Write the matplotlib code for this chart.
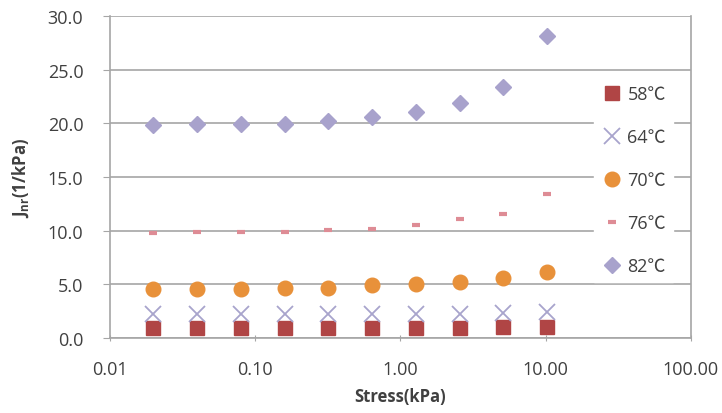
import matplotlib
matplotlib.use("Agg")
import matplotlib.pyplot as plt
from matplotlib.ticker import FixedLocator, FuncFormatter

stress = [0.02, 0.04, 0.08, 0.16, 0.32, 0.64, 1.28, 2.56, 5.12, 10.24]
j58 = [0.9, 0.9, 0.9, 0.9, 0.9, 0.9, 0.92, 0.95, 1.02, 1.0]
j64 = [2.2, 2.2, 2.2, 2.2, 2.2, 2.2, 2.22, 2.25, 2.3, 2.45]
j70 = [4.6, 4.6, 4.6, 4.7, 4.7, 4.9, 5.0, 5.2, 5.6, 6.15]
j76 = [9.75, 9.9, 9.9, 9.9, 10.1, 10.2, 10.5, 11.05, 11.6, 13.4]
j82 = [19.85, 19.95, 19.95, 19.95, 20.25, 20.55, 21.1, 21.9, 23.4, 28.1]
labels = ["58℃", "64℃", "70℃", "76℃", "82℃"]
yticks = [0, 5, 10, 15, 20, 25, 30]
xticks = [0.01, 0.1, 1, 10, 100]

plt.rcParams['font.family'] = ['Open Sans', 'Noto Sans CJK SC', 'DejaVu Sans']
plt.rcParams['mathtext.fontset'] = 'custom'
plt.rcParams['mathtext.rm'] = 'Open Sans:bold'
plt.rcParams['mathtext.bf'] = 'Open Sans:bold'

fig = plt.figure(figsize=(7.22, 4.14), dpi=100)
ax = fig.add_axes([0.152, 0.181, 0.805, 0.778])

ax.set_xscale('log')
ax.set_xlim(0.01, 100)
ax.set_ylim(0, 30)

styles = [
    dict(marker='s', color='#B04545', ms=10, ls='none'),
    dict(marker='x', color='#A8A4CC', ms=11, mew=1.3, ls='none'),
    dict(marker='o', color='#E8913A', ms=10.5, ls='none'),
    dict(marker='_', color='#DE8C95', ms=6, mew=3, ls='none'),
    dict(marker='D', color='#A8A2CC', ms=7.8, ls='none'),
]
series = [j58, j64, j70, j76, j82]
for s, lab, st in zip(series, labels, styles):
    ax.plot(stress, s, label=lab, zorder=3, **st)

ax.yaxis.set_major_locator(FixedLocator(yticks))
ax.yaxis.set_major_formatter(FuncFormatter(lambda v, p: f"{v:.1f}"))
ax.xaxis.set_major_locator(FixedLocator(xticks))
ax.xaxis.set_major_formatter(FuncFormatter(lambda v, p: f"{v:.2f}"))
ax.xaxis.set_minor_locator(FixedLocator([]))

ax.grid(axis='y', color='#A6A6A6', lw=1.2, zorder=0)
ax.spines['top'].set_visible(False)
for sp in ['left', 'bottom', 'right']:
    ax.spines[sp].set_color('#A6A6A6')
    ax.spines[sp].set_linewidth(1.2)

ax.tick_params(axis='both', colors='#A6A6A6', labelcolor='#404040', labelsize=13, length=5)
ax.tick_params(axis='x', direction='inout', pad=13)
ax.tick_params(axis='y', pad=14)

ax.set_xlabel('Stress(kPa)', fontsize=12, fontweight='bold', color='#404040', labelpad=7)
ax.set_ylabel(r'J$_{\mathrm{nr}}$(1/kPa)', fontsize=12, fontweight='bold', color='#404040', labelpad=12)

leg = ax.legend(loc='center right', bbox_to_anchor=(0.985, 0.49), frameon=True, fontsize=13,
                labelspacing=1.38, handletextpad=0.25, handlelength=1.2, borderpad=0.4,
                fancybox=False, edgecolor='white', framealpha=1)
for t in leg.get_texts():
    t.set_color('#404040')

fig.savefig('out.png', dpi=100)
